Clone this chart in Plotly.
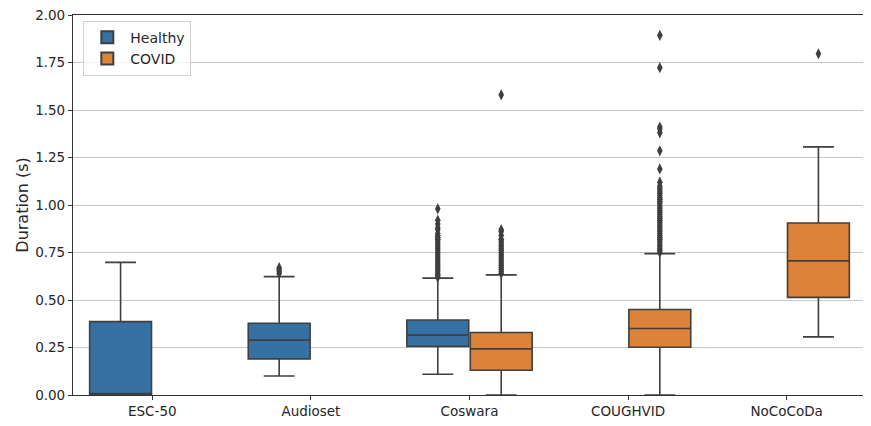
import plotly.graph_objects as go

categories = ["ESC-50", "Audioset", "Coswara", "COUGHVID", "NoCoCoDa"]

# Healthy box stats (None = no data)
healthy_q1 = [0.003, 0.19, 0.256, None, None]
healthy_median = [0.003, 0.289, 0.315, None, None]
healthy_q3 = [0.386, 0.378, 0.395, None, None]
healthy_low = [0.0, 0.10, 0.109, None, None]
healthy_high = [0.698, 0.623, 0.615, None, None]

# COVID box stats
covid_q1 = [None, None, 0.13, 0.251, 0.514]
covid_median = [None, None, 0.243, 0.35, 0.706]
covid_q3 = [None, None, 0.329, 0.45, 0.905]
covid_low = [None, None, 0.0, 0.0, 0.306]
covid_high = [None, None, 0.632, 0.744, 1.306]

# outliers
healthy_outliers = {
    "Audioset": [0.64, 0.65, 0.66, 0.67],
    "Coswara": [0.62, 0.63, 0.64, 0.65, 0.66, 0.67, 0.68, 0.69, 0.70, 0.71,
                0.72, 0.73, 0.74, 0.75, 0.76, 0.77, 0.78, 0.79, 0.80, 0.81,
                0.82, 0.83, 0.84, 0.85, 0.87, 0.88, 0.90, 0.92, 0.98],
}
covid_outliers = {
    "Coswara": [0.64, 0.65, 0.66, 0.67, 0.68, 0.69, 0.70, 0.71, 0.72, 0.73,
                0.74, 0.75, 0.76, 0.77, 0.78, 0.79, 0.80, 0.81, 0.82, 0.84,
                0.86, 0.87, 1.58],
    "COUGHVID": [0.75, 0.76, 0.77, 0.78, 0.79, 0.80, 0.81, 0.82, 0.83, 0.84,
                 0.85, 0.86, 0.87, 0.88, 0.89, 0.90, 0.91, 0.92, 0.93, 0.94,
                 0.95, 0.96, 0.97, 0.98, 0.99, 1.00, 1.01, 1.02, 1.03, 1.04,
                 1.05, 1.06, 1.07, 1.08, 1.09, 1.10, 1.12, 1.19, 1.285,
                 1.38, 1.40, 1.41, 1.723, 1.893],
    "NoCoCoDa": [1.796],
}

y_ticks = [0.0, 0.25, 0.5, 0.75, 1.0, 1.25, 1.5, 1.75, 2.0]

BLUE = "#3572a3"
ORANGE = "#dd8239"
LINE = "#3f3f3f"
OFFSET = 0.2
WIDTH = 0.39

fig = go.Figure()


def add_group(name, color, offset, q1, med, q3, lo, hi, outliers, show_legend):
    xs, a, b, c, d, e = [], [], [], [], [], []
    for i, cat in enumerate(categories):
        if q1[i] is None:
            continue
        xs.append(i + offset)
        a.append(q1[i]); b.append(med[i]); c.append(q3[i]); d.append(lo[i]); e.append(hi[i])
    fig.add_trace(go.Box(
        x=xs, q1=a, median=b, q3=c, lowerfence=d, upperfence=e,
        name=name, width=WIDTH, fillcolor=color,
        line=dict(color=LINE, width=1.6), boxpoints=False,
        whiskerwidth=0.5, showlegend=show_legend,
    ))
    ox, oy = [], []
    for cat, vals in outliers.items():
        i = categories.index(cat)
        ox += [i + offset] * len(vals)
        oy += vals
    fig.add_trace(go.Scatter(
        x=ox, y=oy, mode="markers", showlegend=False, hoverinfo="y",
        marker=dict(symbol="diamond-tall", size=8, color=LINE, line=dict(width=0)),
    ))


add_group("Healthy", BLUE, -OFFSET, healthy_q1, healthy_median, healthy_q3,
          healthy_low, healthy_high, healthy_outliers, True)
add_group("COVID", ORANGE, OFFSET, covid_q1, covid_median, covid_q3,
          covid_low, covid_high, covid_outliers, True)

fig.update_layout(
    width=863, height=418,
    margin=dict(l=65, r=5, t=7, b=31, autoexpand=False),
    paper_bgcolor="white", plot_bgcolor="white",
    font=dict(family="DejaVu Sans", size=13.5, color="#262626"),
    boxmode="overlay",
    legend=dict(x=0.013, y=0.985, xanchor="left", yanchor="top",
                bordercolor="#d0d0d0", borderwidth=1, bgcolor="rgba(255,255,255,0.8)",
                font=dict(size=14), itemsizing="constant", itemwidth=36),
    xaxis=dict(range=[-0.5, 4.5], tickvals=list(range(len(categories))),
               ticktext=categories, showgrid=False, zeroline=False,
               showline=True, linecolor="#333333", linewidth=1.2, mirror=True,
               ticks="outside", ticklen=4, tickcolor="#333333",
               ticklabeloverflow="allow", automargin=False),
    yaxis=dict(range=[0, 2.0], tickvals=y_ticks, tickformat=".2f",
               title=dict(text="Duration (s)", standoff=2),
               showgrid=True, gridcolor="#c8c8c8", gridwidth=1, zeroline=False,
               showline=True, linecolor="#333333", linewidth=1.2, mirror=True,
               ticks="outside", ticklen=4, tickcolor="#333333",
               ticklabeloverflow="allow", automargin=False),
)

fig.write_html("out.html")
